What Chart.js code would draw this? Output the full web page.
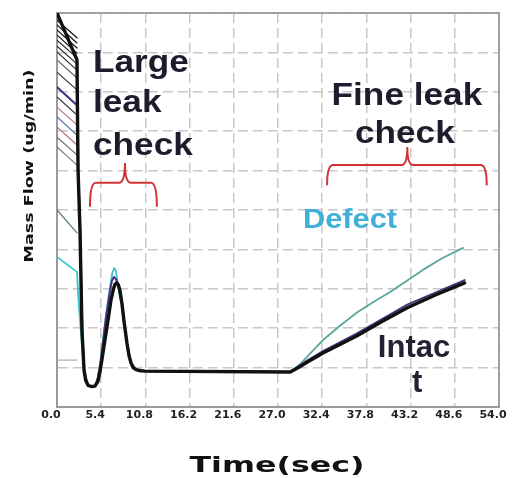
<!DOCTYPE html>
<html>
<head>
<meta charset="utf-8">
<script src="https://cdn.jsdelivr.net/npm/chart.js@4.4.0/dist/chart.umd.min.js"></script>
<style>
  html, body { margin: 0; padding: 0; background: #fff; }
</style>
</head>
<body>
<canvas id="grafico" width="518" height="478"></canvas>
<script>
// tick labels of the time axis
var xTicks = [0.0, 5.4, 10.8, 16.2, 21.6, 27.0, 32.4, 37.8, 43.2, 48.6, 54.0]

// intact part (black)
var intactT = [0, 2.44, 2.57, 2.81, 3.05, 3.3, 3.5, 3.79, 4.2, 4.64, 5.0, 5.3, 5.86, 6.3, 6.6, 6.9, 7.1, 7.3, 7.5, 7.7, 7.94, 8.2, 8.55, 8.8, 9.04, 9.3, 9.65, 10.2, 10.75,
    28.5, 29.5, 30.5, 32.5, 34.5, 36.6, 39.7, 42.8, 46.3, 49.8]
var intactV = [10.0, 8.81, 6.02, 4.49, 1.95, 0.94, 0.68, 0.55, 0.52, 0.53, 0.65, 0.95, 1.70, 2.3, 2.72, 3.0, 3.12, 3.15, 3.1, 2.95, 2.62, 2.15, 1.62, 1.3, 1.12, 1.0, 0.95, 0.92, 0.91,
    0.89, 1.0, 1.13, 1.37, 1.58, 1.8, 2.17, 2.52, 2.85, 3.15]

// second intact run (purple)
var intact2T = [0, 2.44, 2.6, 2.85, 3.1, 3.35, 3.8, 4.6, 4.95, 5.3, 5.6, 6.0, 6.4, 6.7, 6.95, 7.2, 7.5, 7.94, 8.55, 9.04, 9.65, 10.75,
    28.5, 30.5, 32.5, 36.6, 42.8, 49.8]
var intact2V = [8.12, 7.66, 6.0, 4.4, 1.9, 0.9, 0.53, 0.53, 0.7, 1.1, 1.6, 2.3, 2.85, 3.2, 3.3, 3.25, 3.05, 2.62, 1.62, 1.12, 0.95, 0.91,
    0.89, 1.17, 1.42, 1.86, 2.6, 3.22]

// defect part (cyan / teal)
var defectT = [0, 2.44, 2.6, 2.9, 3.3, 3.79, 4.64, 4.95, 5.3, 5.6, 6.0, 6.4, 6.75, 7.0, 7.2, 7.45, 7.7, 7.94, 8.55, 9.04, 9.65, 10.75,
    28.5, 29.3, 30.0, 31.2, 32.5, 34.5, 36.6, 38.7, 40.7, 42.7, 44.7, 47.1, 49.6]
var defectV = [3.81, 3.43, 2.8, 1.95, 0.94, 0.53, 0.53, 0.7, 1.15, 1.7, 2.35, 2.95, 3.4, 3.53, 3.45, 3.1, 2.75, 2.62, 1.62, 1.12, 0.95, 0.91,
    0.89, 1.02, 1.15, 1.42, 1.70, 2.05, 2.39, 2.67, 2.92, 3.2, 3.48, 3.78, 4.04]

// other runs, only seen at the very start
var fanT = [0, 2.44]
var fanStart = [9.82, 9.70, 9.57, 9.44, 9.31, 9.16, 9.01, 8.81, 8.50, 8.12, 7.87, 7.61, 7.36, 7.11, 6.85, 6.60, 5.00, 1.19]
var fanEnd = [9.37, 9.24, 9.11, 8.98, 8.86, 8.71, 8.55, 8.35, 8.05, 7.66, 7.41, 7.16, 6.90, 6.65, 6.40, 6.14, 4.42, 1.19]
var fanColors = ['#111', '#161616', '#1b1b1b', '#222', '#262626', '#2a2a2a', '#333', '#5b735b', '#3a3a3a', '#4a6aa8', '#3a3a3a', '#b07a8a', '#4a6aa8', '#b07a8a', '#6a6a6a', '#7a7a7a', '#5a7a7a', '#b0b0b0']

function pontos(ts, vs) {
    var out = []
    for (var i = 0; i < ts.length; i++) out.push({ x: ts[i], y: vs[i] })
    return out
}

var datasets = []
for (var i = 0; i < fanStart.length; i++) {
    datasets.push({
        label: 'run ' + (i + 1),
        data: pontos(fanT, [fanStart[i], fanEnd[i]]),
        borderColor: fanColors[i],
        borderWidth: 1.2,
        pointRadius: 0,
        order: 5
    })
}
datasets.push({
    label: 'Defect',
    data: pontos(defectT, defectV),
    borderWidth: 1.8,
    pointRadius: 0,
    segment: {
        borderColor: function (c) { return c.p0.parsed.x < 20 ? '#3cc4d0' : '#5aa89c' }
    },
    borderColor: '#5aa89c',
    order: 3
})
datasets.push({
    label: 'Intact 2',
    data: pontos(intact2T, intact2V),
    borderColor: '#4a3480',
    borderWidth: 2,
    pointRadius: 0,
    order: 2
})
datasets.push({
    label: 'Intact',
    data: pontos(intactT, intactV),
    borderColor: '#111',
    borderWidth: 3.4,
    pointRadius: 0,
    order: 1
})

function texto(ctx, str, x, y, font, color, sx, align) {
    ctx.save()
    ctx.font = font
    ctx.fillStyle = color
    ctx.textAlign = align || 'left'
    ctx.textBaseline = 'alphabetic'
    ctx.translate(x, y)
    ctx.scale(sx, 1)
    ctx.fillText(str, 0, 0)
    ctx.restore()
}

// text stretched to a given length
function textoLargo(ctx, str, cx, cy, font, largura, rot) {
    ctx.save()
    ctx.font = font
    ctx.fillStyle = '#111'
    ctx.textAlign = 'center'
    ctx.textBaseline = 'middle'
    var w = ctx.measureText(str).width
    ctx.translate(cx, cy)
    if (rot) ctx.rotate(-Math.PI / 2)
    ctx.scale(largura / w, 1)
    ctx.fillText(str, 0, 0)
    ctx.restore()
}

function chave(ctx, x1, x2, xc, yH, yEnd, yTop) {
    var r = 6
    ctx.save()
    ctx.strokeStyle = '#d23232'
    ctx.lineWidth = 2
    ctx.beginPath()
    ctx.moveTo(x1, yEnd)
    ctx.quadraticCurveTo(x1, yH, x1 + r, yH)
    ctx.lineTo(xc - r, yH)
    ctx.quadraticCurveTo(xc, yH, xc, yTop)
    ctx.quadraticCurveTo(xc, yH, xc + r, yH)
    ctx.lineTo(x2 - r, yH)
    ctx.quadraticCurveTo(x2, yH, x2, yEnd)
    ctx.stroke()
    ctx.restore()
}

var moldura = {
    id: 'moldura',
    beforeDatasetsDraw: function (chart) {
        var a = chart.chartArea, ctx = chart.ctx
        ctx.save()
        ctx.strokeStyle = '#9a9a9a'
        ctx.lineWidth = 1.8
        ctx.strokeRect(a.left, a.top, a.right - a.left, a.bottom - a.top)
        ctx.restore()
    }
}

var anotacoes = {
    id: 'anotacoes',
    afterDraw: function (chart) {
        var ctx = chart.ctx
        var x = chart.scales.x, y = chart.scales.y
        var px = function (t) { return x.getPixelForValue(t) }
        var py = function (v) { return y.getPixelForValue(v) }
        var escuro = '#1c1c2c'
        var f = 'bold 32px "Liberation Sans", Arial, sans-serif'

        texto(ctx, 'Large', px(4.4), py(8.50), f, escuro, 1.1)
        texto(ctx, 'leak', px(4.4), py(7.49), f, escuro, 1.1)
        texto(ctx, 'check', px(4.4), py(6.40), f, escuro, 1.1)

        texto(ctx, 'Fine leak', px(42.75), py(7.67), f, escuro, 1.1, 'center')
        texto(ctx, 'check', px(42.5), py(6.70), f, escuro, 1.1, 'center')

        texto(ctx, 'Defect', px(30.05), py(4.54), 'bold 28px "Liberation Sans", Arial, sans-serif', '#3fb0d6', 1.1)
        texto(ctx, 'Intac', px(39.2), py(1.27), 'bold 31px "Liberation Sans", Arial, sans-serif', '#222233', 1.0)
        texto(ctx, 't', px(44.0), py(0.38), 'bold 31px "Liberation Sans", Arial, sans-serif', '#222233', 1.0, 'center')

        chave(ctx, px(4.03), px(12.2), px(8.3), py(5.69), py(5.08), py(6.19))
        chave(ctx, px(33.0), px(52.5), px(42.8), py(6.14), py(5.63), py(6.6))

        textoLargo(ctx, 'Mass Flow (ug/min)', 30, 166, 'bold 12px "DejaVu Sans", sans-serif', 193, true)
        textoLargo(ctx, 'Time(sec)', 277, 466, 'bold 22px "DejaVu Sans", sans-serif', 175, false)
    }
}

var grafico = new Chart(document.getElementById('grafico'), {
    type: 'line',
    data: { datasets: datasets },
    plugins: [moldura, anotacoes],
    options: {
        responsive: false,
        animation: false,
        devicePixelRatio: 1,
        elements: { line: { tension: 0, borderJoinStyle: 'round', borderCapStyle: 'round' } },
        layout: { padding: { left: 0, right: 19, top: 13, bottom: 0 } },
        plugins: {
            legend: { display: false },
            tooltip: { enabled: false }
        },
        scales: {
            x: {
                type: 'linear',
                min: 0,
                max: 54,
                afterBuildTicks: function (s) {
                    s.ticks = xTicks.map(function (v) { return { value: v } })
                },
                afterFit: function (s) {
                    s.height = 71
                    s.paddingLeft = 0
                    s.paddingRight = 0
                },
                ticks: {
                    autoSkip: false,
                    maxRotation: 0,
                    padding: 2,
                    labelOffset: -6,
                    color: '#222',
                    font: { family: '"DejaVu Sans", sans-serif', size: 11, weight: 'bold' },
                    callback: function (v) { return Number(v).toFixed(1) }
                },
                grid: { color: '#c8c8c8', lineWidth: 1.5, drawTicks: false },
                border: { color: '#9a9a9a', width: 1.8, dash: [10, 5] }
            },
            y: {
                type: 'linear',
                min: 0,
                max: 10,
                ticks: { display: false, stepSize: 1 },
                afterFit: function (s) { s.width = 57 },
                grid: { color: '#c8c8c8', lineWidth: 1.5, drawTicks: false },
                border: { color: '#9a9a9a', width: 1.8, dash: [10, 5] }
            }
        }
    }
})
</script>
</body>
</html>
